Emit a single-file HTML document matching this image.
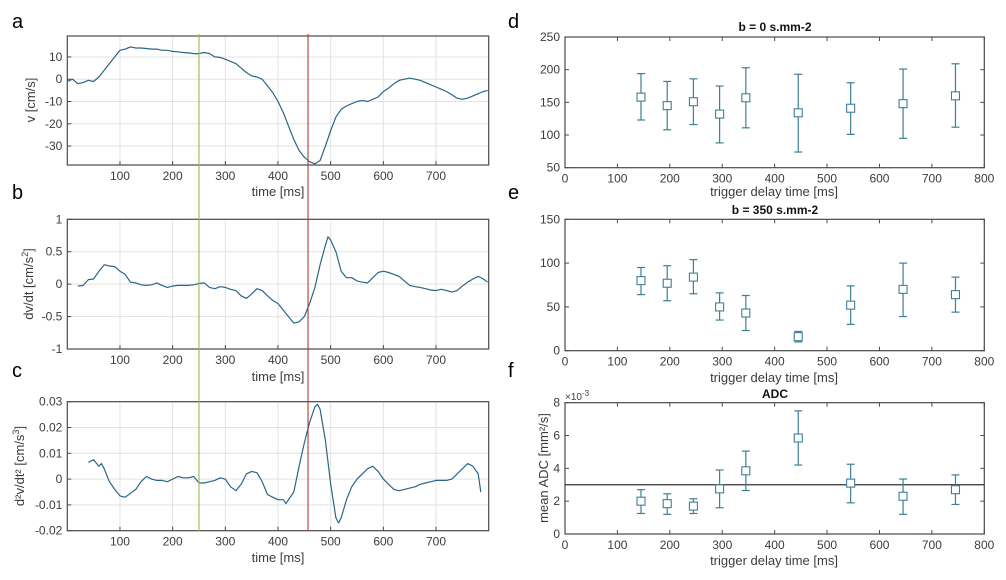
<!DOCTYPE html>
<html><head><meta charset="utf-8"><style>
body{margin:0;background:#fff;width:1006px;height:580px;overflow:hidden}
svg{display:block;font-family:"Liberation Sans","DejaVu Sans",sans-serif}
</style></head><body>
<svg id="fig" width="1006" height="580" viewBox="0 0 1006 580"></svg>
<script>
// ---- data ----
const tA=[0,10,20,30,40,50,60,70,80,90,100,110,120,130,140,150,160,170,180,190,200,210,220,230,240,250,260,270,280,290,300,310,320,330,340,350,360,370,380,390,400,410,420,430,440,450,460,470,480,490,500,510,520,530,540,550,560,570,580,590,600,610,620,630,640,650,660,670,680,690,700,710,720,730,740,750,760,770,780,790,798];
const vA=[-1,0,-2,-1.5,-0.5,-1,1,4,7,10,13,13.5,14.5,14,14,13.8,13.5,13.5,13,13,12.5,12.3,12,11.8,11.5,11.5,12,11.5,10,9.8,9,8,7,5,3,1.5,1,0,-3,-6,-10,-15,-21,-27,-32,-35,-37,-38,-36.5,-30,-23,-17,-13.5,-12,-11,-10,-9.5,-10,-9,-8,-5.5,-4,-2,-0.5,0,0.5,0,-0.5,-1.5,-2.5,-3.5,-4.5,-5.5,-7,-8.5,-9,-8.5,-7.5,-6.5,-5.5,-5];
const tB=[20,30,40,50,60,70,80,90,100,110,120,130,140,150,160,170,180,190,200,210,220,230,240,250,260,270,280,290,300,310,320,330,340,350,360,370,380,390,400,410,420,430,440,450,460,470,480,490,495,500,510,520,530,540,550,560,570,580,590,600,610,620,630,640,650,660,670,680,690,700,710,720,730,740,750,760,770,780,790,798];
const vB=[-0.03,-0.02,0.07,0.08,0.2,0.3,0.28,0.27,0.2,0.15,0.03,0.02,-0.01,-0.02,-0.01,0.02,-0.02,-0.05,-0.03,-0.02,-0.02,-0.02,-0.01,0.01,0.02,-0.05,-0.07,-0.04,-0.05,-0.08,-0.1,-0.18,-0.22,-0.15,-0.07,-0.1,-0.18,-0.25,-0.3,-0.4,-0.5,-0.6,-0.58,-0.5,-0.3,-0.05,0.3,0.6,0.73,0.68,0.5,0.2,0.1,0.1,0.05,0.03,0.02,0.1,0.18,0.2,0.18,0.15,0.12,0.05,-0.02,-0.04,-0.05,-0.07,-0.09,-0.1,-0.08,-0.1,-0.12,-0.1,-0.03,0.03,0.08,0.12,0.08,0.03];
const tC=[40,45,50,60,65,70,80,90,100,110,120,130,140,150,160,170,180,190,200,210,220,230,240,250,260,270,280,290,300,310,320,330,340,350,360,370,380,390,400,410,415,420,430,440,450,460,470,475,480,490,500,510,515,520,530,540,550,560,570,580,590,600,610,620,630,640,650,660,670,680,690,700,710,720,730,740,750,760,770,780,785];
const vC=[0.0065,0.007,0.0075,0.005,0.006,0.004,-0.001,-0.004,-0.0065,-0.007,-0.0055,-0.004,-0.001,0.001,0,-0.0005,-0.0005,-0.001,0,0.001,0.0005,0.0005,0.001,-0.0015,-0.0015,-0.001,-0.0005,0.0005,0,-0.003,-0.0045,-0.002,0.002,0.003,0.0025,-0.001,-0.006,-0.007,-0.008,-0.008,-0.0095,-0.008,-0.005,0.005,0.014,0.022,0.028,0.029,0.027,0.015,-0.002,-0.015,-0.017,-0.015,-0.008,-0.003,0,0.002,0.004,0.005,0.003,0,-0.002,-0.004,-0.0045,-0.004,-0.0035,-0.003,-0.002,-0.0015,-0.001,-0.0005,-0.0005,-0.0005,0,0.002,0.004,0.006,0.005,0.002,-0.005];
const delays=[145,195,245,295,345,445,545,645,745];
const dMean=[158,145,151,132,157,134,141,148,160];
const dLo=[123,108,116,88,111,74,101,95,112];
const dHi=[194,182,186,175,203,193,180,201,209];
const eMean=[80,77,84,50,43,16,52,70,64];
const eLo=[64,57,65,35,23,10,30,39,44];
const eHi=[95,97,104,66,63,22,74,100,84];
const fMean=[2.0,1.85,1.7,2.75,3.85,5.85,3.1,2.3,2.7];
const fLo=[1.25,1.2,1.25,1.6,2.65,4.2,1.9,1.2,1.8];
const fHi=[2.7,2.45,2.15,3.9,5.05,7.5,4.25,3.35,3.6];
const adcRef=3;
const leftXTicks=[100,200,300,400,500,600,700];
const rightXTicks=[0,100,200,300,400,500,600,700,800];
const aTicks=[-30,-20,-10,0,10];
const bTicks=[-1,-0.5,0,0.5,1];
const bTickLabels=["-1","-0.5","0","0.5","1"];
const cTicks=[-0.02,-0.01,0,0.01,0.02,0.03];
const dTicks=[50,100,150,200,250];
const eTicks=[0,50,100,150];
const fTicks=[0,2,4,6,8];
const markers=[250,457];

const NS="http://www.w3.org/2000/svg";
const fig=document.getElementById('fig');
function mk(tag,attrs,parent,text){const e=document.createElementNS(NS,tag);for(const k in attrs)e.setAttribute(k,attrs[k]);if(text!==undefined)e.textContent=text;(parent||fig).appendChild(e);return e;}
function scale(d0,d1,r0,r1){return v=>r0+(v-d0)*(r1-r0)/(d1-d0);}
const AX="#4a4a4a",TXT="#3c3c3c",LINE="#2a6685",EB="#3d7f99";

function panel(name,x0,x1,y0,y1,xd,yd,xticks,yticks,ylabels,grid,mirror){
  const g=mk('g',{});
  
  
  const X=scale(xd[0],xd[1],x0,x1),Y=scale(yd[0],yd[1],y1,y0);
  if(grid){
    xticks.forEach(t=>mk('line',{x1:X(t),x2:X(t),y1:y0,y2:y1,stroke:'#e3e3e3','stroke-width':1},g));
    yticks.forEach(t=>mk('line',{x1:x0,x2:x1,y1:Y(t),y2:Y(t),stroke:'#e3e3e3','stroke-width':1},g));
  }
  xticks.forEach(t=>{
    mk('line',{x1:X(t),x2:X(t),y1:y1,y2:y1-4,stroke:AX},g);
    if(mirror)mk('line',{x1:X(t),x2:X(t),y1:y0,y2:y0+4,stroke:AX},g);
    const tl=mk('text',{x:X(t),y:y1+15,'text-anchor':'middle','font-size':12,fill:TXT},g,String(t));
    
    
  });
  yticks.forEach((t,i)=>{
    mk('line',{x1:x0,x2:x0+4,y1:Y(t),y2:Y(t),stroke:AX},g);
    if(mirror)mk('line',{x1:x1,x2:x1-4,y1:Y(t),y2:Y(t),stroke:AX},g);
    const tl=mk('text',{x:x0-5,y:Y(t)+4,'text-anchor':'end','font-size':12,fill:TXT},g,ylabels?ylabels[i]:String(t));
    
    
  });
  mk('rect',{x:x0,y:y0,width:x1-x0,height:y1-y0,fill:'none',stroke:AX,'stroke-width':1.2},g);
  return {g,X,Y};
}
function curve(p,ts,vs,name){
  const d=ts.map((t,i)=>(i?'L':'M')+p.X(t).toFixed(1)+','+p.Y(vs[i]).toFixed(1)).join('');
  const pa=mk('path',{d:d,fill:'none',stroke:LINE,'stroke-width':1.2,'stroke-linejoin':'round'},p.g);
  
  
}
function errbars(p,xs,m,lo,hi,name){
  xs.forEach((x,i)=>{
    const g=mk('g',{},p.g);
    
    
    const cx=p.X(x);
    mk('line',{x1:cx,x2:cx,y1:p.Y(lo[i]),y2:p.Y(hi[i]),stroke:EB,'stroke-width':1.2},g);
    mk('line',{x1:cx-4,x2:cx+4,y1:p.Y(lo[i]),y2:p.Y(lo[i]),stroke:EB,'stroke-width':1.2},g);
    mk('line',{x1:cx-4,x2:cx+4,y1:p.Y(hi[i]),y2:p.Y(hi[i]),stroke:EB,'stroke-width':1.2},g);
    mk('rect',{x:cx-4,y:p.Y(m[i])-4,width:8,height:8,fill:'#fff',stroke:EB,'stroke-width':1.1},g);
  });
}
function label(txt,x,y,name,opts){
  const t=mk('text',Object.assign({x:x,y:y,'font-size':13,fill:TXT,'text-anchor':'middle'},opts||{}),fig,txt);
  
  
  return t;
}
function ylab(txt,x,y,name){return label(txt,x,y,name,{transform:`rotate(-90 ${x} ${y})`});}

// left panels
const pa=panel('panel-a-velocity',67.3,488.7,36,165,[0,800],[-38.5,19.4],leftXTicks,aTicks,null,true,false);
curve(pa,tA,vA,'velocity-curve');
const pb=panel('panel-b-acceleration',67.3,488.7,219.3,349,[0,800],[-1,1],leftXTicks,bTicks,bTickLabels,true,false);
curve(pb,tB,vB,'acceleration-curve');
const pc=panel('panel-c-jerk',67.3,488.7,401.7,530.7,[0,800],[-0.02,0.03],leftXTicks,cTicks,null,true,false);
curve(pc,tC,vC,'second-derivative-curve');
const mcol=['#9bbb4f','#b03a3a'];
markers.forEach((t,i)=>{
  const l=mk('line',{x1:pa.X(t),x2:pa.X(t),y1:34,y2:531,stroke:mcol[i],'stroke-width':1.1});
  
  
});
label('time [ms]',278,196,'x-axis-title-a');
label('time [ms]',278,381,'x-axis-title-b');
label('time [ms]',278,562,'x-axis-title-c');
ylab('v [cm/s]',35,100,'y-axis-title-a');
const yb=ylab('dv/dt [cm/s',33,284,'y-axis-title-b');
mk('tspan',{dy:-5,'font-size':9},yb,'2');mk('tspan',{dy:5},yb,']');
const yc=ylab('d²v/dt² [cm/s',24,466,'y-axis-title-c');
mk('tspan',{dy:-5,'font-size':9},yc,'3');mk('tspan',{dy:5},yc,']');

// right panels
const pd=panel('panel-d-b0',565,984.3,37,167.7,[0,800],[50,250],rightXTicks,dTicks,null,false,true);
errbars(pd,delays,dMean,dLo,dHi,'errorbar-d');
const pe=panel('panel-e-b350',565,984.3,219.3,350.7,[0,800],[0,150],rightXTicks,eTicks,null,false,true);
errbars(pe,delays,eMean,eLo,eHi,'errorbar-e');
const pf=panel('panel-f-adc',565,984.3,402.7,534,[0,800],[0,8],rightXTicks,fTicks,null,false,true);
const rl=mk('line',{x1:565,x2:984.3,y1:pf.Y(adcRef),y2:pf.Y(adcRef),stroke:'#333','stroke-width':1.3},pf.g);


errbars(pf,delays,fMean,fLo,fHi,'errorbar-f');
label('b = 0 s.mm-2',775,31,'title-d',{'font-weight':'bold','font-size':12,fill:'#111'});
label('b = 350 s.mm-2',775,214,'title-e',{'font-weight':'bold','font-size':12,fill:'#111'});
label('ADC',775,398,'title-f',{'font-weight':'bold','font-size':12,fill:'#111'});
label('trigger delay time [ms]',774,196,'x-axis-title-d');
label('trigger delay time [ms]',774,382,'x-axis-title-e');
label('trigger delay time [ms]',774,565,'x-axis-title-f');
const yf=ylab('mean ADC [mm²/s]',548,468,'y-axis-title-f');
const ex=label('×10',565,400,'y-exponent-f',{'font-size':10,'text-anchor':'start'});
mk('tspan',{dy:-4,'font-size':8},ex,'-3');

// panel letters
[['a',12,28],['b',12,199],['c',12,377],['d',508,28],['e',508,199],['f',508,377]].forEach(l=>{
  label(l[0],l[1],l[2],'panel-letter-'+l[0],{'font-size':20,fill:'#000','text-anchor':'start'});
});
</script>
</body></html>
